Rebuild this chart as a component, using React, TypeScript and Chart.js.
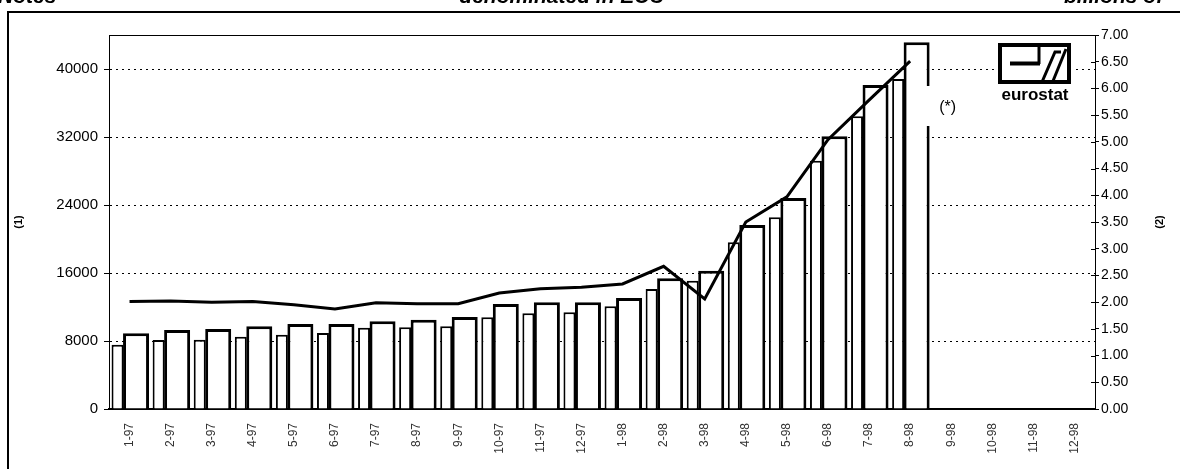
import React, { useEffect, useRef } from "react";
import { Chart, registerables } from "chart.js";

Chart.register(...registerables);

const months = [
  "1-97", "2-97", "3-97", "4-97", "5-97", "6-97", "7-97", "8-97", "9-97", "10-97", "11-97", "12-97",
  "1-98", "2-98", "3-98", "4-98", "5-98", "6-98", "7-98", "8-98", "9-98", "10-98", "11-98", "12-98",
];

// narrow (left) bars, left axis (1)
const seriesNarrow = [
  7565, 8118, 8157, 8510, 8745, 8941, 9569, 9608, 9725, 10784, 11255, 11373,
  12078, 14118, 15098, 19608, 22549, 29216, 34431, 38824, null, null, null, null,
];

// wide (right) bars, left axis (1)
const seriesWide = [
  8900, 9294, 9412, 9725, 10000, 10000, 10314, 10510, 10824, 12353, 12549, 12549,
  13059, 15373, 16275, 21647, 24824, 32078, 38118, 43137, null, null, null, null,
];

// line, right axis (2)
const seriesLine = [
  2.01, 2.02, 2.0, 2.01, 1.95, 1.87, 1.99, 1.97, 1.97, 2.17, 2.25, 2.28,
  2.34, 2.67, 2.06, 3.5, 3.97, 5.04, 5.78, 6.51, null, null, null, null,
];

const leftTickValues = [0, 8000, 16000, 24000, 32000, 40000];
const leftMax = 44000;
const rightMax = 7;
const rightStep = 0.5;

const FONT = '"Liberation Sans", Arial, sans-serif';

const extrasPlugin = {
  id: "extras",
  beforeDraw(chart: any) {
    const ctx = chart.ctx;
    ctx.save();
    ctx.fillStyle = "#fff";
    ctx.fillRect(0, 0, chart.width, chart.height);
    ctx.restore();
  },
  afterDatasetsDraw(chart: any) {
    const ctx = chart.ctx;
    const meta = chart.getDatasetMeta(1);
    const el: any = meta.data[19];
    if (el) {
      const rightEdge = el.x + el.width / 2;
      ctx.save();
      ctx.fillStyle = "#fff";
      ctx.fillRect(rightEdge - 4, 86, 6, 40);
      ctx.fillStyle = "#000";
      ctx.font = `16px ${FONT}`;
      ctx.textAlign = "center";
      ctx.textBaseline = "middle";
      ctx.fillText("(*)", rightEdge + 18, 108);
      ctx.restore();
    }
  },
  afterDraw(chart: any) {
    const ctx = chart.ctx;
    const { left, right, top } = chart.chartArea;
    ctx.save();
    // outer frame
    ctx.strokeStyle = "#000";
    ctx.lineWidth = 2;
    ctx.beginPath();
    ctx.moveTo(8, chart.height + 5);
    ctx.lineTo(8, 12);
    ctx.lineTo(chart.width + 5, 12);
    ctx.stroke();
    // plot top border
    ctx.lineWidth = 1;
    ctx.beginPath();
    ctx.moveTo(left, top + 0.5);
    ctx.lineTo(right, top + 0.5);
    ctx.stroke();

    // header texts (cut at top)
    ctx.fillStyle = "#000";
    ctx.font = `italic bold 21px ${FONT}`;
    ctx.textBaseline = "alphabetic";
    ctx.textAlign = "left";
    ctx.fillText("Notes", -2, 3);
    ctx.textAlign = "center";
    ctx.fillText("denominated in ECU", 562, 3);
    ctx.textAlign = "left";
    ctx.fillText("billions of", 1064, 3);

    // right axis inner tick halves
    const y1 = chart.scales.y1;
    ctx.lineWidth = 1;
    for (let v = 0; v <= rightMax + 1e-9; v += rightStep) {
      const py = Math.round(y1.getPixelForValue(v)) + 0.5;
      ctx.beginPath();
      ctx.moveTo(right - 4, py);
      ctx.lineTo(right, py);
      ctx.stroke();
    }

    // axis titles
    ctx.font = `bold 11px ${FONT}`;
    ctx.textAlign = "center";
    ctx.textBaseline = "middle";
    ctx.save();
    ctx.translate(19, 222);
    ctx.rotate(-Math.PI / 2);
    ctx.fillText("(1)", 0, 0);
    ctx.restore();
    ctx.save();
    ctx.translate(1160, 222);
    ctx.rotate(-Math.PI / 2);
    ctx.fillText("(2)", 0, 0);
    ctx.restore();

    // eurostat logo
    const bx = right - 97;
    const by = top + 8;
    ctx.fillStyle = "#fff";
    ctx.fillRect(bx - 3, by - 3, 80, 66);
    ctx.strokeStyle = "#000";
    ctx.lineWidth = 4;
    ctx.strokeRect(bx + 2, by + 2, 69, 37);
    ctx.lineWidth = 4;
    ctx.beginPath();
    ctx.moveTo(bx + 12, by + 20.5);
    ctx.lineTo(bx + 42, by + 20.5);
    ctx.stroke();
    ctx.lineWidth = 3;
    ctx.beginPath();
    ctx.moveTo(bx + 41, by + 2);
    ctx.lineTo(bx + 41, by + 21);
    ctx.stroke();
    ctx.beginPath();
    ctx.moveTo(bx + 44, by + 39);
    ctx.lineTo(bx + 57, by + 9);
    ctx.lineTo(bx + 63, by + 9);
    ctx.stroke();
    ctx.beginPath();
    ctx.moveTo(bx + 55, by + 38);
    ctx.lineTo(bx + 68, by + 6);
    ctx.stroke();
    ctx.fillStyle = "#000";
    ctx.font = `bold 17px "Liberation Sans Narrow", ${FONT}`;
    ctx.textAlign = "center";
    ctx.textBaseline = "alphabetic";
    ctx.fillText("eurostat", bx + 37, by + 57, 73);

    ctx.restore();
  },
};

export default function App() {
  const canvasRef = useRef<HTMLCanvasElement | null>(null);

  useEffect(() => {
    const canvas = canvasRef.current;
    if (!canvas) return;
    const chart = new Chart(canvas, {
      type: "bar",
      data: {
        labels: months,
        datasets: [
          {
            type: "bar",
            label: "narrow",
            data: seriesNarrow,
            yAxisID: "y",
            backgroundColor: "#fff",
            borderColor: "#000",
            borderWidth: 2,
            categoryPercentage: 1.168,
            barPercentage: 0.5,
            order: 1,
          } as any,
          {
            type: "bar",
            label: "wide",
            data: seriesWide,
            yAxisID: "y",
            backgroundColor: "#fff",
            borderColor: "#000",
            borderWidth: 3,
            categoryPercentage: 0.633,
            barPercentage: 2.0,
            order: 1,
          } as any,
          {
            type: "line",
            label: "line",
            data: seriesLine,
            yAxisID: "y1",
            borderColor: "#000",
            borderWidth: 3,
            pointRadius: 0,
            tension: 0,
            fill: false,
            spanGaps: false,
            order: 0,
          } as any,
        ],
      },
      options: {
        responsive: false,
        animation: false,
        events: [],
        layout: { padding: { left: 0, right: 0, top: 35, bottom: 0 } },
        plugins: {
          legend: { display: false },
          tooltip: { enabled: false },
          title: { display: false },
        },
        scales: {
          x: {
            type: "category",
            offset: true,
            grid: { display: true, drawOnChartArea: false, drawTicks: false, offset: true },
            border: { display: true, color: "#000", width: 2 },
            ticks: {
              autoSkip: false,
              maxRotation: 90,
              minRotation: 90,
              padding: 14,
              color: "#333",
              font: { family: FONT, size: 12 },
            },
            afterFit: (s: any) => {
              s.height = 60;
            },
          },
          y: {
            type: "linear",
            position: "left",
            min: 0,
            max: leftMax,
            afterBuildTicks: (s: any) => {
              s.ticks = leftTickValues.map((v) => ({ value: v }));
            },
            grid: {
              display: true,
              color: "#000",
              lineWidth: 1,
              tickLength: 5,
              tickColor: "#000",
            },
            border: { display: true, color: "#000", width: 1, dash: [2, 4] },
            ticks: {
              padding: 6,
              color: "#000",
              font: { family: FONT, size: 15 },
              callback: (v: any) => String(v),
            },
            afterFit: (s: any) => {
              s.width = 109;
            },
          } as any,
          y1: {
            type: "linear",
            position: "right",
            min: 0,
            max: rightMax,
            grid: {
              display: true,
              drawOnChartArea: false,
              tickLength: 4,
              tickColor: "#000",
            },
            border: { display: true, color: "#000", width: 1 },
            ticks: {
              stepSize: rightStep,
              padding: 2,
              color: "#000",
              font: { family: FONT, size: 14 },
              callback: (v: any) => Number(v).toFixed(2),
            },
            afterFit: (s: any) => {
              s.width = 85;
            },
          },
        },
      },
      plugins: [extrasPlugin],
    });
    return () => chart.destroy();
  }, []);

  return (
    <div style={{ position: "fixed", left: 0, top: 0, width: 1180, height: 469, background: "#fff" }}>
      <canvas ref={canvasRef} width={1180} height={469} style={{ display: "block" }} />
    </div>
  );
}
